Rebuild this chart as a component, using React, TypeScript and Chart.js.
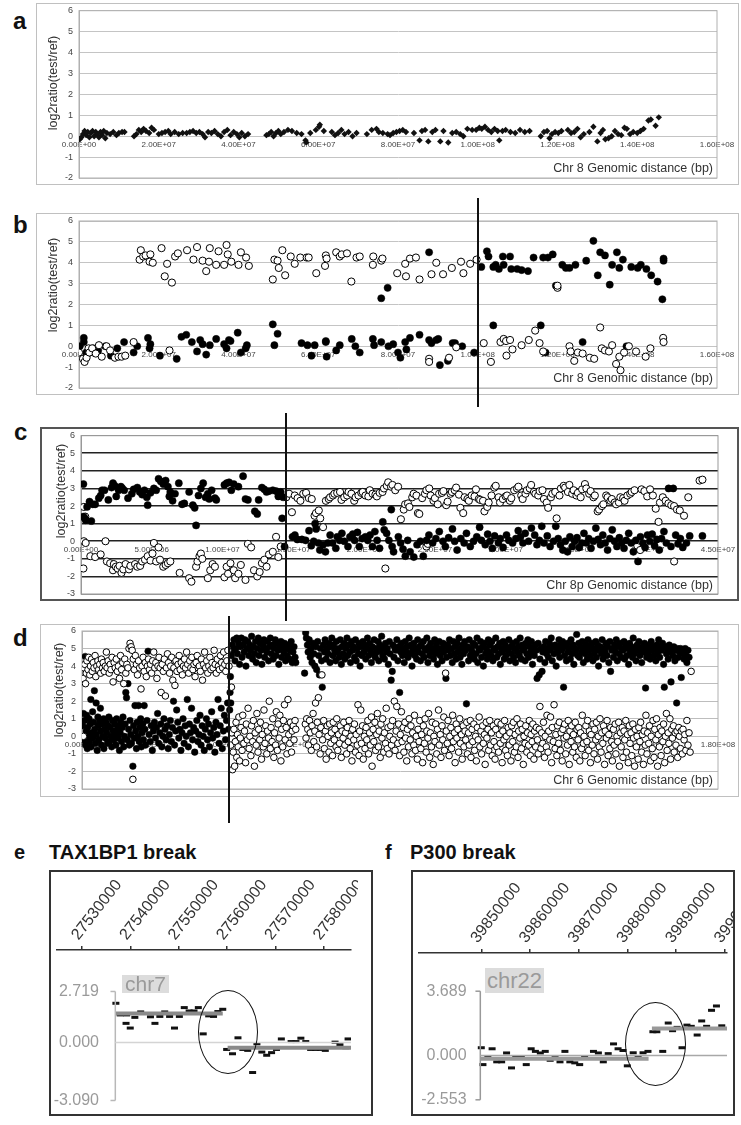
import React, { useEffect, useRef } from 'react';
import { Chart, registerables } from 'chart.js';
Chart.register(...registerables);

const FONT = '"Liberation Sans", Arial, Helvetica, sans-serif';
Chart.defaults.font.family = FONT;

// ---------- Panel a: Chr 8 (Mb, log2ratio) ----------
const aChr8: number[][] = [
[0.2,-0.15],[0.6,-0.05],[1.0,0.1],[1.4,0.25],[1.8,0.05],[2.2,0.2],[2.6,-0.05],[3.0,0.15],[3.4,0.25],[3.8,0.0],[4.2,0.2],[4.6,0.1],[5.0,-0.05],[5.4,0.2],[5.8,0.05],[6.2,0.25],[6.6,-0.1],[7.0,0.15],[7.8,0.1],[8.6,0.2],[9.4,0.05],[10.0,0.15],[10.8,0.2],[11.4,0.2],
[13.8,0.0],[14.4,0.1],[15.0,0.3],[15.6,0.2],[16.2,0.35],[16.8,0.25],[17.6,0.15],[18.2,0.4],[18.8,0.3],
[20.0,0.1],[20.8,0.15],[21.6,0.2],[22.4,0.25],[23.0,0.1],[24.0,0.2],[25.0,0.1],[26.0,0.15],[27.0,0.15],[27.8,0.2],[28.6,0.25],[29.4,0.15],[30.2,0.2],[31.0,0.1],[31.6,-0.05],[32.4,0.2],[33.2,0.15],[34.0,0.25],[34.8,0.1],[35.6,0.0],[36.4,0.2],[37.2,0.3],[38.0,0.05],[38.8,0.2],[39.6,0.1],[40.2,-0.05],[40.8,0.15],[41.6,0.0],[42.4,0.1],
[47.0,0.05],[47.6,0.1],[48.2,0.2],[48.8,0.0],[49.4,0.15],[50.0,0.25],[50.6,0.1],[51.4,0.2],[52.4,0.3],[53.4,0.25],[54.6,0.15],[55.8,0.1],[56.8,-0.2],[57.0,-0.3],[58.0,0.15],
[59.4,0.3],[60.2,0.45],[60.4,0.55],[61.4,0.25],
[63.4,0.2],[64.2,0.05],[65.0,0.15],[65.8,0.3],[66.6,0.1],[67.6,0.2],[68.6,0.0],[69.6,0.15],
[72.2,0.1],[73.4,0.3],[74.6,0.35],[75.2,0.2],[76.2,0.15],[77.4,0.1],[78.0,0.05],[78.8,0.15],[79.6,0.2],[80.4,0.25],[81.2,0.3],[82.0,0.2],
[84.0,0.15],[85.4,-0.2],[86.0,0.25],[86.8,0.3],[87.6,-0.25],[88.6,0.2],[89.4,0.3],[90.6,-0.25],[91.4,0.25],[92.6,-0.3],[93.6,0.15],[94.6,0.2],[95.6,0.1],[96.4,0.0],[97.4,0.35],[98.6,0.3],
[99.6,0.3],[100.4,0.4],[101.0,0.35],[101.8,0.45],[102.6,0.3],[103.4,0.2],[104.2,0.35],[105.0,0.25],[105.4,-0.2],[106.2,0.25],[107.0,0.3],[108.2,0.2],[109.4,0.15],[110.6,0.3],[111.8,0.2],[113.0,0.25],
[115.8,0.0],[116.6,0.2],[117.4,0.25],[118.0,-0.1],[118.6,0.1],[119.4,0.2],[120.2,0.15],[121.0,0.25],
[122.6,0.3],[123.4,0.15],[124.2,0.2],[125.0,0.35],[125.8,-0.05],[126.6,0.1],
[128.0,0.2],[129.0,0.45],[130.0,-0.25],[130.8,0.15],[131.4,0.3],[132.0,-0.15],[132.8,-0.1],
[133.6,0.0],[134.4,0.25],[135.2,0.1],[136.0,0.05],[136.8,0.4],[137.4,0.35],[138.2,0.1],[139.0,0.2],
[140.0,0.15],[140.8,0.25],[141.6,0.35],[142.8,0.75],[143.4,0.8],[144.6,0.5],[145.4,0.9]
];

// ---------- Panel b ----------
const bFilled: number[][] = [
[0.2,0.0],[1.2,0.4],[1.2,0.2],[1.8,-0.3],[2.4,-0.15],[3.6,-0.1],[4.8,-0.2],[6.6,0.0],[8.0,-0.45],[9.6,-0.1],[11.3,0.2],[13.7,-0.3],[14.6,0.0],[17.3,0.4],[17.9,0.1],[17.7,-0.1],[20.3,-0.45],[24.5,-0.6],[25.7,0.45],[26.9,0.55],[28.3,0.2],[29.6,-0.25],[30.4,0.3],[31.0,0.1],[31.9,-0.4],[32.8,0.05],[34.4,0.35],[36.4,0.1],[37.0,-0.1],[37.6,0.3],[38.0,0.25],[39.8,0.65],[40.6,-0.3],[41.8,-0.1],[42.1,0.05],[48.6,1.05],[49.0,0.05],[49.8,0.6],[55.8,0.15],[57.3,0.05],[59.1,0.05],[58.3,-0.45],[61.9,0.25],[61.9,0.2],[62.1,-0.5],[64.5,-0.2],[65.4,0.05],[68.4,0.35],[69.3,0.0],[70.4,-0.3],[73.7,0.35],[74.0,0.05],[75.8,0.2],[77.6,0.0],[78.8,0.1],[80.0,-0.3],[80.6,-0.55],[81.8,0.2],[82.1,-0.15],[83.0,0.4],[85.4,0.55],[87.8,0.3],[88.4,0.15],[89.6,0.3],[90.1,0.35],[90.5,-0.9],[92.5,-0.7],[93.7,0.15],[94.3,0.15],[96.1,0.0],[99.1,-0.3],
[75.8,2.3],[77.4,2.8],[87.8,4.5],
[100.9,3.8],[102.3,4.55],[102.7,4.3],[103.9,3.8],[104.5,3.9],[105.3,3.7],[106.3,4.3],[106.5,3.9],[108.1,4.3],[108.4,3.7],[109.9,3.7],[111.0,3.65],[112.6,3.6],[114.0,4.25],[116.4,4.25],[117.6,4.25],[118.8,4.4],[119.6,2.9],[121.2,3.9],[122.1,3.75],[123.0,3.75],[124.5,3.9],[127.2,4.1],[129.0,5.05],[130.1,3.4],[130.7,4.5],[131.9,4.35],[133.1,2.95],[133.7,3.9],[134.9,4.5],[135.5,3.75],[136.4,4.15],[138.5,3.8],[140.1,3.75],[140.9,3.9],[142.3,3.7],[143.5,3.4],[145.1,3.1],[146.3,2.25],[146.6,4.2],[146.6,4.1],
[103.9,1.0],[115.8,1.0],[117.0,-0.3],[126.3,0.2],[137.3,0.0]
];
const bOpen: number[][] = [
[0.0,-0.3],[1.0,-0.6],[1.4,-0.75],[1.9,-0.55],[2.4,-0.1],[2.6,-0.3],[3.3,-0.1],[4.2,-0.35],[5.0,0.05],[5.7,-0.5],[6.9,0.0],[7.8,-0.2],[9.0,-0.55],[9.9,-0.5],[10.7,-0.5],[11.6,-0.45],[13.7,0.2],[22.7,-0.2],
[15.2,4.15],[15.5,4.6],[16.1,4.3],[16.7,4.35],[17.7,4.05],[17.9,4.4],[18.5,4.0],[20.7,4.7],[21.5,3.35],[22.1,3.95],[23.3,3.05],[24.1,4.3],[24.8,4.45],[27.1,4.6],[28.7,4.15],[29.6,4.75],[31.0,4.1],[31.9,3.6],[32.8,4.7],[32.6,4.05],[34.4,3.9],[35.0,4.55],[36.4,3.9],[37.0,4.85],[37.3,4.4],[38.2,4.05],[40.0,3.9],[40.6,4.5],[41.9,4.25],[42.6,3.85],
[48.6,3.2],[49.0,4.15],[49.8,4.1],[50.1,3.75],[51.0,4.6],[51.7,3.4],[53.1,4.3],[54.1,3.95],[55.5,4.25],[57.1,4.25],[57.6,4.25],[59.5,3.5],[61.7,3.85],[61.9,4.35],[62.1,4.2],[64.5,4.5],[65.4,4.3],[65.9,4.4],[67.2,4.45],[68.3,3.1],[69.6,4.25],[70.4,4.3],[73.7,3.9],[73.8,4.3],[75.8,4.1],[76.1,4.2],[79.8,3.5],[81.8,3.95],[82.0,3.35],[83.0,4.2],[84.5,4.25],[85.4,3.2],[88.4,3.45],[89.6,4.0],[91.3,3.45],[93.5,3.75],[95.8,4.05],[96.4,3.5],[98.1,3.95],[99.7,4.15],
[87.8,-0.6],[87.8,-0.75],[92.8,-0.55],[94.6,-0.05],
[101.5,0.15],[103.3,-0.75],[105.7,0.2],[106.5,0.35],[107.1,0.25],[107.2,-0.45],[108.1,0.3],[108.7,-0.15],[111.0,0.05],[112.8,0.3],[114.4,0.75],[115.5,0.15],[116.4,-0.25],[120.0,2.8],[120.0,2.9],[123.0,0.0],[123.3,-0.25],[124.2,-0.7],[125.1,-0.3],[126.3,-0.35],[128.1,-0.55],[129.2,-0.6],[130.7,0.9],[131.1,-0.1],[131.9,-0.2],[132.9,-0.25],[133.7,0.05],[134.7,-0.85],[135.8,-1.15],[135.5,-0.5],[136.7,-0.3],[137.9,0.0],[139.7,-0.25],[142.1,-0.5],[143.3,-0.1],[146.5,0.4],[146.6,0.2]
];

// ---------- Panel c: Chr 8p ----------
const cFilled: number[][] = [
[0.17,3.25],[0.17,1.4],[0.27,1.3],[0.33,1.2],[0.43,1.95],[0.6,2.25],[0.73,1.15],[0.83,2.1],[1.0,2.1],[1.26,2.45],[1.39,2.6],[1.49,2.9],[1.66,2.9],[1.93,2.35],[2.16,3.05],[2.26,3.3],[2.39,3.15],[2.49,2.55],[2.66,2.9],[2.82,3.1],[2.92,3.0],[3.05,2.9],[3.32,2.45],[3.59,2.7],[3.72,2.95],[3.98,3.05],[4.15,2.8],[4.32,2.65],[4.48,2.9],[4.65,2.5],[4.71,2.05],[4.91,2.75],[5.15,3.0],[5.31,2.9],[5.48,3.55],[5.64,3.4],[5.81,3.25],[5.98,3.45],[6.14,3.1],[6.24,2.55],[6.31,2.8],[6.47,2.3],[6.64,2.7],[6.91,3.3],[7.14,2.1],[7.3,2.15],[7.64,2.8],[7.9,2.05],[8.03,1.9],[8.13,0.9],[8.3,2.6],[8.47,3.0],[8.63,3.3],[8.8,2.5],[8.96,2.7],[9.06,2.4],[9.23,2.9],[9.46,2.45],[9.56,2.35],[10.13,3.2],[10.29,3.3],[10.46,3.35],[10.62,2.9],[10.79,3.25],[11.12,3.1],[11.45,3.7],[11.62,2.4],[11.79,2.35],[12.28,1.7],[12.45,1.55],[12.55,2.35],[12.78,3.05],[12.95,2.95],[13.11,2.8],[13.28,2.85],[13.55,2.9],[13.78,2.85],[13.94,2.55],[14.11,2.8],[14.21,1.3],[14.28,2.5],
[14.38,-0.3],[14.94,0.25],[15.11,0.35],[15.28,0.1],[15.61,0.1],[15.87,0.05],[16.11,0.6],[16.27,-0.25],[16.44,0.0],[16.54,1.0],[16.61,0.7],[16.77,-0.1],[16.87,-0.5],[17.1,-0.2],[17.27,-0.6],[17.44,-0.1],[17.6,0.35],[17.77,-0.1],[18.0,-0.4],[18.1,0.25],[18.27,0.05],[18.43,0.45],[18.6,0.0],[18.86,-0.3],[19.0,0.25],[19.2,0.4],[19.33,0.05],[19.53,0.5],[19.66,-0.3],[19.86,0.15],[20.09,0.25],[20.26,0.05],[20.42,0.35],[20.59,-0.3],[20.76,0.55],[20.92,0.05],[21.09,-0.4],[21.32,1.1],[21.42,0.65],[21.59,0.45],[21.75,0.05],[21.92,1.8],[21.98,-0.3],[22.08,-0.6],[22.42,0.25],[22.58,-0.1],[22.75,-0.45],[22.91,-0.85],[23.08,0.05],[23.25,-0.6],[23.51,-0.9],[23.74,-0.2],[23.98,0.0],[24.18,-0.85],[24.41,0.05],[24.58,0.35],[24.84,-0.1],[25.07,0.15],[25.31,0.55],[25.57,0.0],[25.74,-0.3],[25.97,0.2],[26.24,0.7],[26.4,0.0],[26.57,-0.5],[26.83,0.15],[27.07,-0.1],[27.23,0.45],[27.5,-0.3],[27.73,0.0],[27.96,0.25],[28.16,0.8],[28.29,0.05],[28.56,-0.2],[28.73,0.4],[28.89,0.0],[29.06,-0.4],[29.22,0.3],[29.49,-0.1],[29.62,0.15],[29.82,-0.35],[30.06,0.35],[30.22,0.05],[30.49,-0.1],[30.72,0.15],[30.89,0.6],[31.05,0.25],[31.22,-0.1],[31.38,0.45],[31.62,0.0],[31.82,0.75],[32.05,0.35],[32.21,-0.2],[32.38,0.05],[32.55,0.85],[32.71,-0.1],[32.94,0.3],[33.14,-0.3],[33.38,0.0],[33.54,0.85],[33.71,0.15],[33.87,-0.2],[34.04,-0.5],[34.21,0.0],[34.37,-0.6],[34.54,0.25],[34.7,-0.3],[34.87,0.0],[35.04,0.2],[35.2,-0.35],[35.37,-0.1],[35.53,0.45],[35.7,-0.1],[35.87,0.15],[36.03,-0.4],[36.2,0.0],[36.37,0.75],[36.53,0.1],[36.7,-0.2],[36.86,0.35],[37.03,-0.1],[37.2,-0.5],[37.36,0.15],[37.53,0.65],[37.69,0.0],[37.86,-0.3],[38.03,0.2],[38.19,-0.1],[38.36,-0.4],[38.52,0.05],[38.69,0.45],[38.86,-0.1],[39.02,-0.6],[39.19,0.05],[39.35,-1.15],[39.52,0.25],[39.69,-0.1],[39.85,-0.35],[40.02,0.35],[40.18,0.0],[40.35,0.4],[40.52,-0.25],[40.68,0.1],[40.85,-0.5],[41.01,0.15],[41.18,0.55],[41.35,-0.1],[41.51,3.0],[41.68,-0.3],[41.84,3.0],[42.01,0.35],[42.18,-0.15],[42.34,0.15],[42.51,-0.35],[42.77,-0.1],[43.0,0.3],[43.9,0.3]
];
const cOpen: number[][] = [
[0.2,1.95],[0.3,1.4],[0.2,0.0],[0.33,-0.1],[0.17,-1.55],[0.66,-0.85],[1.0,-0.9],[1.39,-0.75],[1.73,0.0],[1.83,-1.15],[2.06,-1.25],[2.26,-1.65],[2.32,-1.3],[2.46,-1.45],[2.59,-1.55],[2.72,-1.4],[2.86,-1.8],[2.99,-1.6],[3.15,-1.3],[3.39,-1.6],[3.49,-1.4],[3.82,-1.3],[3.98,-1.45],[4.18,-1.4],[4.32,-1.15],[4.52,-1.05],[4.71,-0.85],[4.91,-1.1],[5.05,-0.7],[5.15,-0.1],[5.31,-1.15],[5.48,-0.35],[5.58,-1.05],[5.81,-1.45],[5.98,-1.35],[6.14,-1.25],[6.31,-1.15],[6.97,-1.8],[7.64,-2.1],[7.8,-2.3],[8.13,-1.45],[8.23,-1.15],[8.37,-0.85],[8.47,-0.7],[8.57,-1.0],[8.96,-2.1],[9.13,-1.65],[9.3,-1.3],[9.46,-1.45],[10.13,-2.05],[10.29,-1.45],[10.39,-1.85],[10.56,-1.25],[10.79,-1.65],[10.89,-2.1],[11.12,-1.85],[11.29,-1.35],[11.62,-2.2],[11.79,-0.15],[12.02,-0.35],[12.22,-1.65],[12.45,-2.0],[12.62,-1.75],[12.78,-1.25],[12.95,-1.05],[13.11,-1.45],[13.28,-0.75],[13.55,-0.6],[13.78,0.25],[13.94,-0.9],[14.11,-0.3],
[14.5,2.5],[14.7,2.7],[14.9,1.65],[15.1,2.6],[15.3,2.45],[15.5,2.3],[15.7,2.7],[15.9,2.75],[16.1,2.45],[16.3,2.4],[16.5,1.45],[16.6,1.6],[16.8,1.75],[16.9,1.3],[17.1,0.8],[17.3,2.3],[17.5,2.4],[17.6,2.5],[17.8,2.6],[17.9,2.7],[18.1,2.75],[18.3,2.8],[18.4,2.35],[18.6,2.5],[18.8,2.6],
[18.9,2.8],[19.1,2.7],[19.3,2.3],[19.4,2.5],[19.6,2.6],[19.8,2.75],[19.9,2.8],[20.1,2.6],[20.3,2.55],[20.4,2.9],[20.6,2.7],[20.8,2.65],[20.9,2.55],[21.1,2.75],[21.3,2.8],[21.4,3.0],[21.6,3.15],[21.7,3.35],[21.9,3.1],[22.0,3.2],[22.2,2.9],[21.5,-1.55],[22.4,3.1],
[22.6,1.25],[22.8,1.8],[22.9,2.1],[23.1,2.15],[23.2,1.95],[23.4,2.5],[23.5,2.7],[23.7,2.6],[23.8,1.6],[23.9,1.55],[24.1,2.45],[24.3,2.7],[24.4,2.9],[24.6,3.0],[24.7,2.6],[24.9,2.3],[25.0,2.45],[25.2,2.1],[24.4,-0.3],[24.5,-0.15],[25.3,2.7],[25.5,2.75],[25.6,2.85],[25.8,2.05],[25.9,2.25],[26.1,2.7],[26.2,2.8],[26.4,2.9],[26.5,3.05],[26.7,2.65],[26.8,1.9],[27.0,1.6],
[27.1,2.5],[27.3,2.4],[27.4,2.3],[27.6,2.6],[27.8,2.55],[27.9,2.95],[28.1,2.4],[28.2,2.35],[28.4,2.3],[28.5,1.7],[28.7,1.95],[28.8,2.2],[29.0,2.6],[29.2,3.05],[29.3,3.15],[29.5,2.5],[29.6,2.2],[29.8,2.4],[30.0,2.55],[30.1,2.6],[30.3,2.3],[30.4,2.45],[30.6,2.9],[30.8,3.0],[30.9,3.1],
[31.1,2.6],[31.2,2.4],[31.4,2.7],[31.5,2.9],[31.7,3.0],[31.8,3.2],[32.0,2.8],[32.1,2.7],[32.3,2.6],[32.4,2.85],[32.6,2.9],[32.7,2.4],[32.9,2.2],[33.0,1.9],[33.2,2.5],[33.3,2.7],[33.5,2.8],[33.6,1.3],[33.8,2.6],[33.9,3.0],[34.1,3.15],[34.2,3.05],[34.4,2.8],[34.5,3.2],[34.7,2.7],[34.8,2.9],[35.0,2.6],[35.1,2.75],[35.3,2.5],[35.4,2.95],
[35.6,3.25],[35.7,3.0],[35.9,2.7],[36.0,2.85],[36.2,2.5],[36.3,2.6],[36.5,1.7],[36.6,1.8],[36.8,2.0],[36.9,2.1],[37.1,2.6],[37.2,2.5],[37.4,2.3],[37.5,2.4],[37.7,2.2],[37.8,2.1],[38.0,2.2],[38.1,2.5],[38.3,2.45],[38.4,2.3],[39.3,-0.25],[39.4,0.05],[39.5,-0.5],[38.6,2.6],[38.8,2.7],[38.9,2.8],[39.1,2.9],[39.6,2.95],[39.8,2.85],[40.0,2.55],
[40.2,2.95],[40.4,2.6],[40.6,1.85],[40.8,1.1],[40.9,2.2],[41.1,2.5],[41.3,2.3],[41.5,2.15],[41.7,2.05],[41.9,2.0],[42.1,1.8],[42.3,1.75],[41.9,-1.15],[42.6,1.45],[42.9,2.5],[43.7,3.45],[43.9,3.5]
];

// ---------- Panel d: Chr 6 ----------
const dOpen: number[][] = [
[0.3,3.3],[0.5,3.9],[0.8,4.1],[1.0,3.0],[1.2,3.6],[1.4,4.3],[1.7,3.8],[1.9,4.5],[2.2,3.5],[2.4,4.0],[2.7,4.4],[2.9,3.7],[3.2,4.2],[3.4,3.9],[3.7,4.6],[3.9,3.4],[4.2,4.0],[4.5,4.3],[4.7,3.8],[5.0,4.1],[5.3,3.6],[5.5,4.4],[5.8,3.9],[6.0,4.2],[6.3,3.7],[6.6,4.0],[6.9,4.8],[7.1,3.9],[7.4,4.3],[7.7,3.6],[8.0,4.1],[8.2,3.8],[8.5,4.5],[8.8,3.1],[9.1,4.2],[9.4,3.9],[9.7,4.4],[10.0,3.7],[10.3,4.0],[10.6,3.3],[10.9,4.6],[11.2,3.8],[11.5,4.2],[11.8,3.0],[12.1,4.4],[12.4,3.6],[12.7,4.1],[13.0,3.9],[13.3,5.0],[13.6,5.3],[13.9,5.1],[14.2,4.9],[14.5,4.4],[14.8,3.8],[15.1,4.6],[15.4,4.1],[15.7,3.5],[16.0,4.3],[16.3,3.9],[16.7,2.7],[17.0,4.0],[17.3,4.5],[17.6,3.7],[17.9,4.2],[18.2,3.4],[18.5,4.0],[18.8,4.4],[19.1,3.8],[19.4,4.1],[19.7,3.6],[20.0,4.3],[20.3,4.8],[20.6,3.9],[20.9,4.2],[21.2,3.3],[21.5,4.0],[21.8,4.5],[22.1,3.9],[22.4,2.5],[22.7,4.1],[23.0,3.7],[23.3,4.4],[23.6,2.3],[23.9,3.9],[24.2,4.7],[24.5,4.2],[24.8,3.6],[25.1,4.0],[25.4,4.5],[25.7,3.2],[26.0,3.9],[26.3,2.9],[26.6,4.3],[26.9,3.7],[27.2,4.1],[27.5,4.6],[27.8,3.8],[28.1,4.2],[28.4,3.5],[28.7,4.0],[29.0,4.4],[29.3,3.9],[29.6,4.8],[29.9,4.1],[30.2,3.6],[30.5,4.3],[30.8,3.9],[31.1,4.5],[31.4,3.8],[31.7,4.1],[32.0,3.4],[32.3,4.2],[32.6,4.6],[32.9,3.9],[33.2,4.0],[33.5,3.7],[33.8,4.4],[34.1,3.2],[34.4,4.1],[34.7,4.8],[35.0,3.9],[35.3,4.3],[35.6,3.6],[35.9,4.0],[36.2,4.5],[36.5,3.8],[36.8,4.2],[37.1,3.9],[37.4,4.9],[37.7,4.1],[38.0,3.6],[38.3,4.4],[38.6,4.0],[38.9,3.8],[39.2,4.6],[39.5,4.2],[39.8,3.9],[40.1,4.8],[40.4,4.1],[40.7,3.7],[41.0,4.3],[41.3,4.9],[41.6,4.0],
[0.4,0.0],[14.4,-2.45],
[42.1,-0.5],[42.3,2.8],[42.4,0.2],[42.6,-1.9],[42.8,-0.9],[43.0,0.4],[43.2,-1.7],[43.4,-0.3],[43.6,0.8],[43.8,-1.2],[44.0,0.1],[44.2,-0.6],[44.4,1.1],[44.6,-1.4],[44.8,-0.1],[45.0,0.5],[45.3,-0.8],[45.5,1.2],[45.8,-0.4],[46.0,0.3],[46.3,-1.5],[46.5,0.7],[46.8,-0.2],[47.0,1.6],[47.3,-0.7],[47.5,0.0],[47.8,-1.1],[48.0,0.6],[48.3,-0.3],[48.5,0.9],[48.8,-1.7],[49.0,0.2],[49.3,-0.5],[49.5,1.3],[49.8,-0.9],[50.0,0.4],[50.3,-0.2],[50.5,0.8],[50.8,-1.3],[51.0,0.1],[51.3,-0.6],[51.5,1.5],[51.8,-0.4],[52.0,0.6],[52.3,-1.0],[52.5,0.3],[52.8,-0.1],[53.0,2.0],[53.3,-0.7],[53.5,0.5],[53.8,-0.3],[54.0,1.0],[54.3,-1.2],[54.5,0.2],[54.8,-0.5],[55.0,1.4],[55.3,-0.8],[55.5,0.7],[55.8,-0.1],[56.0,1.2],[56.3,-1.4],[56.5,0.4],[56.8,-0.6],[57.0,0.9],[57.3,1.8],[57.5,-0.2],[57.8,0.5],[58.0,-1.0],[58.3,2.1],[58.5,0.1],[58.8,-0.4],[59.0,0.8],[59.3,-0.9],[59.5,0.3],[59.8,0.6],[60.0,-0.2],[60.3,0.9],[60.5,0.4],
[63.2,0.7],[63.4,-0.1],[63.6,1.0],[63.9,0.4],[64.1,-0.5],[64.4,0.9],[64.6,0.2],[64.9,-0.8],[65.1,0.6],[65.4,1.3],[65.6,-0.3],[65.9,0.3],[66.1,1.9],[66.4,-0.6],[66.6,0.8],[66.9,2.2],[67.1,0.1],[67.4,-1.0],[67.6,0.5],[67.9,3.5],[68.1,-0.2],[68.4,0.9],[68.6,-0.7],[68.9,0.3],[69.1,-1.3],[69.4,0.6],[69.6,0.0],[69.9,-0.9],[70.1,0.7],[70.4,-0.4],[70.6,0.2],[70.9,-1.1],[71.1,0.8],[71.4,-0.2],[71.6,0.4],[71.9,-0.6],[72.1,1.0],[72.4,-0.8],[72.6,0.1],[72.9,-0.4],[73.1,0.6],[73.4,-1.2],[73.6,0.3],[73.9,-0.1],[74.1,0.8],[74.4,-0.5],[74.6,0.2],[74.9,-1.0],[75.1,0.5],[75.4,-0.3],[75.6,0.9],[75.9,-0.7],[76.1,0.0],[76.4,-1.4],[76.6,0.4],[76.9,-0.2],[77.1,0.7],[77.4,-0.9],[77.6,0.1],[77.9,-0.5],[78.1,1.8],[78.4,-1.1],[78.6,0.3],[78.9,1.5],[79.1,-0.4],[79.4,0.6],[79.6,-1.3],[79.9,0.0],[80.1,-0.7],[80.4,0.5],[80.6,-0.2],[80.9,0.9],[81.1,-1.0],[81.4,0.2],[81.6,-0.5],[81.9,1.1],[82.1,-1.7],[82.4,0.4],[82.6,-0.3],[82.9,0.8],[83.1,-0.8],[83.4,0.1],[83.6,1.3],[83.9,-0.6],[84.1,0.3],[84.4,-1.2],[84.6,0.7],[84.9,-0.1],[85.1,1.0],[85.4,-0.9],[85.6,0.2],[85.9,-0.4],[86.1,1.6],[86.4,-0.7],[86.6,0.5],[86.9,-1.0],[87.1,0.0],[87.4,0.6],[87.6,-0.5],[87.9,0.9],[88.1,-0.2],[88.4,2.0],[88.6,-0.8],[88.9,0.3],[89.1,1.7],[89.4,-0.4],[89.6,0.7],[89.9,-1.1],[90.1,0.1],[90.4,1.4],[90.6,-0.3],[90.9,0.5],[91.1,-0.9],[91.4,0.8],[91.6,-0.1],[91.9,-1.4],[92.1,0.4],[92.4,-0.6],[92.6,1.0],[92.9,-0.2],[93.1,0.6],[93.4,-1.0],[93.6,0.2],[93.9,-0.5],[94.1,1.2],[94.4,-0.8],[94.6,0.0],[94.9,-1.3],[95.1,0.4],[95.4,-0.3],[95.6,0.9],[95.9,-0.7],[96.1,0.1],[96.4,-1.5],[96.6,0.6],[96.9,-0.4],[97.1,1.0],[97.4,-0.9],[97.6,0.3],[97.9,-0.1],[98.1,1.3],[98.4,-1.2],[98.6,0.2],[98.9,-0.6],[99.1,0.8],[99.4,-1.6],[99.6,0.0],[99.9,-0.3],[100.1,0.7],[100.4,-1.0],[100.6,0.4],[100.9,1.5],[101.1,-0.5],[101.4,0.1],[101.6,-1.2],[101.9,0.6],[102.1,-0.2],[102.4,1.1],[102.6,-0.8],[102.9,3.6],[103.1,0.3],[103.4,-0.4],[103.6,0.9],[103.9,-1.1],[104.1,0.0],[104.4,0.5],[104.6,-0.7],[104.9,1.2],[105.1,-0.3],[105.4,0.2],[105.6,-1.5],[105.9,0.7],[106.1,-0.1],[106.4,0.4],[106.6,-0.9],[106.9,1.0],[107.1,-0.4],[107.4,0.1],[107.6,-1.3],[107.9,0.6],[108.1,-0.6],[108.4,0.3],[108.6,-0.2],[108.9,0.8],[109.1,-1.0],[109.4,0.2],[109.6,-0.5],[109.9,0.9],[110.1,-1.2],[110.4,0.4],[110.6,-0.3],[110.9,0.7],[111.1,-0.8],[111.4,0.0],[111.6,-1.4],[111.9,0.5],[112.1,-0.2],[112.4,1.1],[112.6,-0.6],[112.9,0.3],[113.1,-1.0],[113.4,0.6],[113.6,-0.4],[113.9,0.1],[114.1,-1.6],[114.4,0.8],[114.6,-0.1],[114.9,0.4],[115.1,-0.8],[115.4,0.9],[115.6,-0.5],[115.9,0.2],[116.1,-1.1],[116.4,0.6],[116.6,-0.3],[116.9,-1.3],[117.1,0.4],[117.4,-0.6],[117.6,0.8],[117.9,-0.9],[118.1,0.1],[118.4,-0.4],[118.6,0.7],[118.9,-1.5],[119.1,0.3],[119.4,-0.2],[119.6,0.9],[119.9,-0.8],[120.1,0.0],[120.4,-1.1],[120.6,0.5],[120.9,-0.5],[121.1,0.2],[121.4,-1.4],[121.6,0.6],[121.9,-0.3],[122.1,0.8],[122.4,-0.9],[122.6,0.1],[122.9,-0.6],[123.1,1.0],[123.4,-1.2],[123.6,0.3],[123.9,-0.1],[124.1,0.7],[124.4,-0.7],[124.6,0.4],[124.9,-1.6],[125.1,0.0],[125.4,-0.4],[125.6,0.6],[125.9,-0.9],[126.1,0.2],[126.4,-0.5],[126.6,0.9],[126.9,-1.1],[127.1,0.1],[127.4,-0.3],[127.6,0.7],[127.9,-1.3],[128.1,0.3],[128.4,-0.6],[128.6,0.5],[128.9,-0.2],[129.1,-1.0],[129.4,0.4],[129.6,1.7],[129.9,-0.7],[130.1,0.2],[130.4,-0.4],[130.6,0.8],[130.9,-1.2],[131.1,0.0],[131.4,-0.6],[131.6,1.2],[131.9,-0.9],[132.1,0.3],[132.4,-0.2],[132.6,1.1],[132.9,-1.5],[133.1,0.5],[133.4,-0.3],[133.6,1.8],[133.9,-0.7],[134.1,0.1],[134.4,-1.1],[134.6,0.6],[134.9,-0.4],[135.1,0.8],[135.4,-0.8],[135.6,0.2],[135.9,-1.4],[136.1,0.4],[136.4,-0.1],[136.6,0.7],[136.9,-1.0],[137.1,0.0],[137.4,-0.5],[137.6,0.9],[137.9,-1.6],[138.1,0.3],[138.4,-0.3],[138.6,0.6],[138.9,-0.9],[139.1,0.1],[139.4,-0.6],[139.6,0.8],[139.9,-1.2],[140.1,0.4],[140.4,-0.2],[140.6,0.5],[140.9,-1.4],[141.1,0.2],[141.4,-0.7],[141.6,1.2],[141.9,-0.4],[142.1,0.0],[142.4,-1.1],[142.6,0.6],[142.9,-0.3],[143.1,0.9],[143.4,-0.8],[143.6,0.3],[143.9,-1.5],[144.1,0.1],[144.4,-0.5],[144.6,0.7],[144.9,-1.0],[145.1,0.4],[145.4,-0.2],[145.6,0.8],[145.9,-1.3],[146.1,0.0],[146.4,-0.6],[146.6,1.0],[146.9,-0.9],[147.1,0.2],[147.4,-0.4],[147.6,0.6],[147.9,-1.6],[148.1,0.3],[148.4,-0.1],[148.6,0.9],[148.9,-1.1],[149.1,0.1],[149.4,-0.7],[149.6,0.5],[149.9,-0.3],[150.1,-1.4],[150.4,0.4],[150.6,-0.5],[150.9,0.7],[151.1,-1.0],[151.4,0.0],[151.6,-0.3],[151.9,0.8],[152.1,-1.7],[152.4,0.2],[152.6,-0.6],[152.9,0.5],[153.1,-1.2],[153.4,0.3],[153.6,-0.2],[153.9,0.9],[154.1,-0.9],[154.4,0.1],[154.6,-1.5],[154.9,0.6],[155.1,-0.4],[155.4,0.2],[155.6,-1.1],[155.9,0.7],[156.1,-0.1],[156.4,-1.7],[156.6,0.4],[156.9,-0.6],[157.1,0.0],[157.4,-1.3],[157.6,0.5],[157.9,-0.3],[158.1,0.8],[158.4,-0.9],[158.6,0.1],[158.9,-1.6],[159.1,0.3],[159.4,-0.5],[159.6,1.2],[159.9,-1.0],[160.1,0.2],[160.4,-0.4],[160.6,0.6],[160.9,-1.4],[161.1,0.0],[161.4,-0.7],[161.6,0.9],[161.9,-1.2],[162.1,0.4],[162.4,-0.2],[162.6,1.0],[162.9,-1.7],[163.1,0.1],[163.4,-0.6],[163.6,0.5],[163.9,-1.1],[164.1,0.3],[164.4,-0.3],[164.6,0.7],[164.9,-1.5],[165.1,0.0],[165.4,1.3],[165.6,-0.8],[165.9,0.2],[166.1,-0.4],[166.4,1.0],[166.6,-1.3],[166.9,0.4],[167.1,-0.1],[167.4,0.6],[167.6,-0.9],[167.9,0.2],[168.1,-0.5],[168.4,0.3],[168.6,-1.2],[168.9,0.5],[169.1,0.0],[169.4,-0.7],[169.6,0.3],[169.9,-1.0],[170.1,0.4],[170.4,-0.2],[170.6,0.1],[170.9,-0.8],[171.2,0.9],[171.5,-0.5],[171.8,0.2],[172.1,-0.9],[172.4,3.7]
];
const dFilled: number[][] = [
[0.2,0.6],[0.4,1.3],[0.5,-0.2],[0.7,0.9],[0.9,4.55],[1.0,-0.5],[1.2,0.3],[1.3,1.2],[1.5,-0.7],[1.6,0.5],[1.8,0.0],[2.0,1.0],[2.1,-0.3],[2.3,0.7],[2.5,2.1],[2.6,-0.6],[2.8,0.2],[3.0,1.4],[3.1,-0.1],[3.3,0.8],[3.5,2.6],[3.6,0.4],[3.8,-0.4],[4.0,1.9],[4.1,0.1],[4.3,-0.8],[4.5,1.1],[4.6,0.6],[4.8,-0.2],[5.0,0.9],[5.2,1.6],[5.3,0.3],[5.5,-0.5],[5.7,0.7],[5.9,0.0],[6.1,1.0],[6.2,-0.7],[6.4,0.4],[6.6,-0.1],[6.8,0.8],[7.0,0.2],[7.2,-0.4],[7.4,0.6],[7.6,1.1],[7.8,-0.3],[8.0,0.5],[8.2,0.0],[8.4,-0.6],[8.6,0.9],[8.8,0.3],[9.0,-0.2],[9.2,0.7],[9.4,0.1],[9.6,-0.5],[9.8,1.0],[10.0,0.4],[10.2,-0.1],[10.4,0.6],[10.6,-0.8],[10.8,0.2],[11.0,0.8],[11.2,-0.3],[11.4,0.5],[11.6,1.1],[11.8,-0.6],[12.0,0.0],[12.2,0.7],[12.4,2.5],[12.6,2.2],[12.8,-0.2],[13.0,3.0],[13.2,0.4],[13.4,-0.5],[13.6,0.9],[13.8,0.1],[14.0,-0.4],[14.4,-1.7],[14.6,0.6],[14.8,-0.1],[15.0,1.75],[15.2,0.3],[15.4,-0.7],[15.6,0.8],[15.8,0.0],[16.0,1.75],[16.2,-0.3],[16.4,0.5],[16.6,1.0],[16.8,-0.6],[17.0,0.2],[17.2,0.7],[17.4,-0.2],[17.6,1.75],[17.8,0.4],[18.0,-0.5],[18.4,0.9],[18.7,4.85],[19.0,0.1],[19.3,-0.3],[19.6,0.6],[19.9,-0.8],[20.2,0.3],[20.5,0.8],[20.8,-0.1],[21.1,0.5],[21.4,1.3],[21.7,-0.4],[22.0,0.2],[22.3,0.7],[22.6,-0.6],[22.9,0.0],[23.2,1.0],[23.5,0.4],[23.8,-0.2],[24.1,0.6],[24.4,-0.7],[24.7,0.1],[25.0,0.9],[25.3,-0.3],[25.6,0.5],[25.9,2.0],[26.2,-0.5],[26.5,0.3],[26.8,1.5],[27.1,0.8],[27.4,-0.1],[27.7,0.4],[28.0,-0.8],[28.3,0.2],[28.6,1.0],[28.9,-0.4],[29.2,0.6],[29.5,0.0],[29.8,2.1],[30.1,-0.6],[30.4,0.7],[30.7,0.2],[31.0,1.6],[31.3,-0.2],[31.6,0.5],[31.9,-0.9],[32.2,0.3],[32.5,0.9],[32.8,-0.3],[33.1,0.1],[33.4,1.2],[33.7,-0.5],[34.0,0.6],[34.3,0.0],[34.6,-0.8],[34.9,0.4],[35.2,1.0],[35.5,-0.2],[35.8,0.7],[36.1,-0.6],[36.4,0.2],[36.7,1.4],[37.0,-0.1],[37.3,0.5],[37.6,-0.9],[37.9,0.8],[38.2,0.1],[38.5,2.1],[38.8,-0.4],[39.1,0.6],[39.4,1.6],[39.7,-0.7],[40.0,0.3],[40.3,1.2],[40.6,-0.2],[40.9,0.9],[41.2,1.9],[41.5,0.4],[41.8,1.5],[41.9,2.5],[42.0,3.4],[42.1,1.9],
[42.3,4.6],[42.5,5.2],[42.8,4.9],[43.0,5.5],[43.3,4.3],[43.5,5.0],[43.8,5.6],[44.0,4.7],[44.3,5.3],[44.6,4.1],[44.8,5.1],[45.1,5.6],[45.3,4.5],[45.6,5.2],[45.9,4.8],[46.1,5.5],[46.4,4.0],[46.7,5.0],[46.9,5.4],[47.2,4.6],[47.5,5.2],[47.7,4.9],[48.0,5.7],[48.3,4.4],[48.5,5.1],[48.8,4.7],[49.1,5.4],[49.3,4.2],[49.6,5.0],[49.9,5.6],[50.1,4.6],[50.4,5.3],[50.7,4.9],[50.9,4.1],[51.2,5.2],[51.5,5.5],[51.7,4.5],[52.0,5.0],[52.3,4.8],[52.5,5.4],[52.8,4.3],[53.1,5.1],[53.3,5.6],[53.6,4.7],[53.9,5.2],[54.1,4.4],[54.4,5.0],[54.7,5.5],[54.9,4.6],[55.2,5.3],[55.5,4.9],[55.7,4.1],[56.0,5.1],[56.3,5.4],[56.5,4.5],[56.8,5.0],[57.1,4.8],[57.3,5.3],[57.6,4.3],[57.9,5.0],[58.1,4.6],[58.4,5.2],[58.7,4.4],[58.9,4.9],[59.2,5.4],[59.5,4.2],[59.7,4.8],[60.0,5.1],[60.3,4.5],[60.5,4.2],
[63.0,3.6],[63.3,5.9],[63.5,5.6],[63.8,5.2],[64.0,4.8],[64.3,5.5],[64.6,4.5],[64.8,5.0],[65.1,4.2],[65.4,5.3],[65.6,4.7],[65.9,4.0],[66.2,5.1],[66.4,3.8],[66.7,5.4],[67.0,4.6],[67.2,3.5],[67.5,5.0],[67.8,4.3],[68.0,2.8],[68.3,5.2],[68.6,4.8],[68.8,5.5],[69.1,4.4],[69.4,5.0],[69.6,4.7],[69.9,5.3],[70.2,4.2],[70.4,5.1],[70.7,5.6],[71.0,4.6],[71.2,5.2],[71.5,4.9],[71.8,4.3],[72.0,5.4],[72.3,4.8],[72.6,5.0],[72.8,4.5],[73.1,5.5],[73.4,4.1],[73.6,5.1],[73.9,4.7],[74.2,5.3],[74.4,4.4],[74.7,5.0],[75.0,5.6],[75.2,4.6],[75.5,5.2],[75.8,4.8],[76.0,4.2],[76.3,5.4],[76.6,4.9],[76.8,5.1],[77.1,4.5],[77.4,5.5],[77.6,4.3],[77.9,5.0],[78.2,4.7],[78.4,5.3],[78.7,4.0],[79.0,5.1],[79.2,4.6],[79.5,5.4],[79.8,4.8],[80.0,5.2],[80.3,4.4],[80.6,5.0],[80.8,5.6],[81.1,4.6],[81.4,5.3],[81.6,4.9],[81.9,4.2],[82.2,5.1],[82.4,4.7],[82.7,5.5],[83.0,4.5],[83.2,5.0],[83.5,4.8],[83.8,5.4],[84.0,4.3],[84.3,5.2],[84.6,4.9],[84.8,5.7],[85.1,4.6],[85.4,5.1],[85.6,4.4],[85.9,5.3],[86.2,4.8],[86.4,5.0],[86.7,4.1],[87.0,5.4],[87.2,4.7],[87.5,3.2],[87.8,3.7],[88.0,5.2],[88.3,4.5],[88.6,5.0],[88.8,4.9],[89.1,5.5],[89.4,4.3],[89.6,5.1],[89.9,2.5],[90.2,4.8],[90.4,5.3],[90.7,4.6],[91.0,5.0],[91.2,4.2],[91.5,5.4],[91.8,4.8],[92.0,5.1],[92.3,4.5],[92.6,5.6],[92.8,4.7],[93.1,5.2],[93.4,4.0],[93.6,4.9],[93.9,5.3],[94.2,4.6],[94.4,5.0],[94.7,4.4],[95.0,5.5],[95.2,4.8],[95.5,5.1],[95.8,4.3],[96.0,5.2],[96.3,4.7],[96.6,5.4],[96.8,4.5],[97.1,5.0],[97.4,4.9],[97.6,5.6],[97.9,4.2],[98.2,5.1],[98.4,4.6],[98.7,5.3],[99.0,4.8],[99.2,5.0],[99.5,4.4],[99.8,5.5],[100.0,4.7],[100.3,5.2],[100.6,4.1],[100.8,4.9],[101.1,5.4],[101.4,4.6],[101.6,5.0],[101.9,4.3],[102.2,5.3],[102.4,4.8],[102.7,5.1],[103.0,3.3],[103.2,4.5],[103.5,5.2],[103.8,4.9],[104.0,5.5],[104.3,4.6],[104.6,5.0],[104.8,4.2],[105.1,5.4],[105.4,4.7],[105.6,5.1],[105.9,4.4],[106.2,5.3],[106.4,4.8],[106.7,5.6],[107.0,4.5],[107.2,5.0],[107.5,4.1],[107.8,5.2],[108.0,4.7],[108.3,5.4],[108.6,4.9],[108.8,1.85],[109.1,5.1],[109.4,4.3],[109.6,5.5],[109.9,4.6],[110.2,5.0],[110.4,4.8],[110.7,5.3],[111.0,4.4],[111.2,5.2],[111.5,4.7],[111.8,5.6],[112.0,4.2],[112.3,5.0],[112.6,4.9],[112.8,5.4],[113.1,4.5],[113.4,5.1],[113.6,4.0],[113.9,5.3],[114.2,4.7],[114.4,5.0],[114.7,4.4],[115.0,5.5],[115.2,4.8],[115.5,5.2],[115.8,4.6],[116.0,5.4],[116.3,4.3],[116.6,5.0],[116.8,4.9],[117.1,5.6],[117.4,4.5],[117.6,5.1],[117.9,4.7],[118.2,5.3],[118.4,4.1],[118.7,5.0],[119.0,4.8],[119.2,5.4],[119.5,4.4],[119.8,5.2],[120.0,4.6],[120.3,5.0],[120.6,4.9],[120.8,5.5],[121.1,4.3],[121.4,5.1],[121.6,4.7],[121.9,5.3],[122.2,4.5],[122.4,5.0],[122.7,4.2],[123.0,5.4],[123.2,4.8],[123.5,5.1],[123.8,4.6],[124.0,5.6],[124.3,4.4],[124.6,5.2],[124.8,4.9],[125.1,5.0],[125.4,4.3],[125.6,5.3],[125.9,4.7],[126.2,5.5],[126.4,4.5],[126.7,5.1],[127.0,4.8],[127.2,5.4],[127.5,4.1],[127.8,5.0],[128.0,4.6],[128.3,5.2],[128.6,4.9],[128.8,3.3],[129.1,5.3],[129.4,3.5],[129.6,4.4],[129.9,5.0],[130.2,3.7],[130.4,4.8],[130.7,5.1],[131.0,4.2],[131.2,5.4],[131.5,4.7],[131.8,5.0],[132.0,4.5],[132.3,5.3],[132.6,4.9],[132.8,5.6],[133.1,4.3],[133.4,5.1],[133.6,4.7],[133.9,5.2],[134.2,4.0],[134.4,5.0],[134.7,4.8],[135.0,5.5],[135.2,4.5],[135.5,5.2],[135.8,4.9],[136.0,5.4],[136.3,2.8],[136.6,4.6],[136.8,5.1],[137.1,4.3],[137.4,5.3],[137.6,4.8],[137.9,5.0],[138.2,4.4],[138.4,5.5],[138.7,4.7],[139.0,5.2],[139.2,4.1],[139.5,5.0],[139.8,4.9],[140.0,5.8],[140.3,4.6],[140.6,5.3],[140.8,4.5],[141.1,5.1],[141.4,4.8],[141.6,5.4],[141.9,4.2],[142.2,5.0],[142.4,4.7],[142.7,5.2],[143.0,4.4],[143.2,5.5],[143.5,4.9],[143.8,5.1],[144.0,4.6],[144.3,5.3],[144.6,4.3],[144.8,5.0],[145.1,4.8],[145.4,5.4],[145.6,4.5],[145.9,5.2],[146.2,4.0],[146.4,4.9],[146.7,5.1],[147.0,4.7],[147.2,5.5],[147.5,4.4],[147.8,5.0],[148.0,4.8],[148.3,5.3],[148.6,4.6],[148.8,5.1],[149.1,4.2],[149.4,5.4],[149.6,3.7],[149.9,4.9],[150.2,5.0],[150.4,4.5],[150.7,5.2],[151.0,4.8],[151.2,5.5],[151.5,4.3],[151.8,5.1],[152.0,4.7],[152.3,5.3],[152.6,4.5],[152.8,5.0],[153.1,4.9],[153.4,5.4],[153.6,4.4],[153.9,5.2],[154.2,4.6],[154.4,5.0],[154.7,4.1],[155.0,5.3],[155.2,4.8],[155.5,5.1],[155.8,4.5],[156.0,5.6],[156.3,4.7],[156.6,5.0],[156.8,4.3],[157.1,5.2],[157.4,4.9],[157.6,5.4],[157.9,4.6],[158.2,5.0],[158.4,4.2],[158.7,5.1],[159.0,4.8],[159.2,5.3],[159.5,2.75],[159.8,4.5],[160.0,5.0],[160.3,4.7],[160.6,5.2],[160.8,4.4],[161.1,5.4],[161.4,4.9],[161.6,5.1],[161.9,4.6],[162.2,5.0],[162.4,4.3],[162.7,5.2],[163.0,4.8],[163.2,5.5],[163.5,4.5],[163.8,5.0],[164.0,4.9],[164.3,5.3],[164.6,4.1],[164.8,2.8],[165.1,5.1],[165.4,4.7],[165.6,5.0],[165.9,4.4],[166.2,5.2],[166.4,4.8],[166.7,3.1],[167.0,5.0],[167.2,4.6],[167.5,5.1],[167.8,4.3],[168.0,4.9],[168.3,1.9],[168.6,5.0],[168.8,4.5],[169.1,4.8],[169.4,5.0],[169.6,3.35],[169.9,4.7],[170.2,4.9],[170.4,4.4],[170.7,5.0],[171.0,4.6],[171.2,4.2],[171.5,4.9],[171.8,4.5]
];

// ---------- Panels e / f (bp, log2ratio) ----------
const eProbes: number[][] = [
[27536990,2.09],[27537880,1.47],[27539210,1.47],[27539090,1.02],[27539960,0.77],[27540910,1.34],[27542120,1.63],[27544140,1.37],[27545070,1.02],[27546080,1.39],[27547090,1.63],[27548100,1.39],[27549110,0.77],[27550120,1.39],[27551130,1.86],[27552140,1.68],[27553150,1.68],[27554040,1.86],[27555050,0.46],[27556180,1.42],[27557190,1.39],[27558080,1.65],[27559090,1.77],[27559900,-0.37],[27561110,-0.6],[27562240,0.25],[27563250,-0.37],[27564260,-0.42],[27565270,-1.6],[27566160,-0.07],[27567170,-0.51],[27568180,-0.68],[27569190,-0.54],[27570200,-0.37],[27571210,0.19],[27573230,0.05],[27574240,0.05],[27575250,0.23],[27576260,0.05],[27577270,-0.37],[27578280,-0.37],[27579290,-0.37],[27580300,-0.42],[27582320,0.02],[27583330,-0.12],[27584550,-0.28],[27585010,0.19]
];
const eSegments: number[][] = [[27536870, 27559090, 1.55], [27560100, 27585616, -0.28]];
const eXTicks = [27530000, 27540000, 27550000, 27560000, 27570000, 27580000];
const eYTicks = [-3.09, 0, 2.719];

const fProbes: number[][] = [
[39850000,0.44],[39850340,-0.53],[39851350,-0.09],[39852220,0.38],[39853170,-0.37],[39854180,-0.37],[39855190,0.14],[39856200,-0.72],[39857070,-0.09],[39858220,-0.09],[39859230,-0.53],[39860240,0.38],[39861110,0.23],[39862120,0.14],[39863130,0.23],[39864140,-0.28],[39865150,-0.13],[39866160,-0.37],[39867170,0.23],[39868180,-0.37],[39869190,-0.43],[39870200,-0.53],[39871210,-0.09],[39873030,0.23],[39874040,0.14],[39875050,-0.37],[39876060,0.1],[39877150,0.66],[39878080,0.38],[39879090,0.28],[39879980,-0.6],[39881190,0.15],[39882200,-0.09],[39883210,0.15],[39884220,0.23],[39885230,1.36],[39886040,1.36],[39887250,0.23],[39888380,1.86],[39889270,1.42],[39890200,1.61],[39891210,0.44],[39892220,1.74],[39893110,1.67],[39894320,1.17],[39895250,1.98],[39896260,1.67],[39897270,2.59],[39898280,2.84],[39899370,1.7]
];
const fSegments: number[][] = [[39849800, 39884343, -0.19], [39885030, 39900445, 1.55]];
const fXTicks = [39850000, 39860000, 39870000, 39880000, 39890000, 39900000];
const fYTicks = [-2.553, 0, 3.689];

// ---------- helpers ----------
const sci = (v: number) => {
  const [m, e] = v.toExponential(2).split('e');
  const n = parseInt(e, 10);
  return m + 'E' + (n < 0 ? '-' : '+') + String(Math.abs(n)).padStart(2, '0');
};
const toXY = (pts: number[][], k = 1) => pts.map(([x, y]) => ({ x: x * k, y }));
const filledSet = (pts: number[][], r: number) => ({
  data: toXY(pts, 1e6), pointStyle: 'circle', pointRadius: r,
  pointBackgroundColor: '#000', pointBorderColor: '#000', pointBorderWidth: 0.5,
});
const openSet = (pts: number[][], r: number) => ({
  data: toXY(pts, 1e6), pointStyle: 'circle', pointRadius: r,
  pointBackgroundColor: '#fff', pointBorderColor: '#000', pointBorderWidth: 1,
});

const framePlugin = (color: string, width: number) => ({
  id: 'frame',
  beforeDatasetsDraw(chart: any) {
    const { ctx, chartArea: a } = chart;
    ctx.save();
    ctx.strokeStyle = color;
    ctx.lineWidth = width;
    ctx.strokeRect(a.left, a.top, a.right - a.left, a.bottom - a.top);
    ctx.restore();
  },
});

function ExcelPanel({ cfg }: { cfg: any }) {
  const ref = useRef<HTMLCanvasElement>(null);
  const [bl, bt, br, bb] = cfg.box;
  const [pl, pt, pr, pb] = cfg.plot;
  useEffect(() => {
    const chart = new Chart(ref.current as any, {
      type: 'scatter',
      data: { datasets: cfg.datasets },
      options: {
        animation: false, responsive: false, devicePixelRatio: 1,
        layout: { padding: { left: 0, top: pt - bt, right: br - pr, bottom: bb - pb } },
        plugins: { legend: { display: false }, tooltip: { enabled: false } },
        scales: {
          x: {
            type: 'linear', min: 0, max: cfg.xMax, position: { y: 0 },
            ticks: { stepSize: cfg.xStep, autoSkip: false, maxRotation: 0, minRotation: 0, padding: 4, color: '#444', font: { family: FONT, size: 8 }, callback: (v: any) => sci(Number(v)) },
            grid: { display: false, drawTicks: false },
            border: { display: false },
            afterFit: (s: any) => { s.paddingLeft = 0; s.paddingRight = 0; },
          },
          y: {
            type: 'linear', min: cfg.yMin, max: cfg.yMax,
            ticks: { stepSize: 1, color: '#444', font: { family: FONT, size: 9 }, padding: 6 },
            grid: { color: cfg.gridColor, lineWidth: cfg.gridWidth, drawTicks: false },
            border: { color: cfg.frameColor },
            afterFit: (s: any) => { s.width = pl - bl; s.paddingTop = 0; s.paddingBottom = 0; },
          },
        },
      } as any,
      plugins: [framePlugin(cfg.frameColor, 1)],
    } as any);
    return () => chart.destroy();
  }, []);
  return <canvas ref={ref} width={br - bl} height={bb - bt} style={{ position: 'absolute', left: bl, top: bt, width: br - bl, height: bb - bt }} />;
}

function BreakPanel({ cfg }: { cfg: any }) {
  const ref = useRef<HTMLCanvasElement>(null);
  const { left, top, width, height } = cfg.canvas;
  useEffect(() => {
    const yLo = cfg.yTicks[0], yHi = cfg.yTicks[cfg.yTicks.length - 1];
    const line = (pts: any[], color: string, w: number) => ({ data: pts, showLine: true, borderColor: color, borderWidth: w, pointRadius: 0 });
    const datasets: any[] = [
      line([{ x: cfg.axisX, y: 0 }, { x: cfg.xMax, y: 0 }], cfg.zeroColor, 1.5),
      line([{ x: cfg.axisX, y: yLo }, { x: cfg.axisX, y: yHi }], cfg.axisColor, 1.5),
      line([{ x: cfg.axisX - cfg.tickBp, y: yLo }, { x: cfg.axisX, y: yLo }], cfg.axisColor, 1.5),
      line([{ x: cfg.axisX - cfg.tickBp, y: yHi }, { x: cfg.axisX, y: yHi }], cfg.axisColor, 1.5),
      ...cfg.segments.map((s: number[]) => line([{ x: s[0], y: s[2] }, { x: s[1], y: s[2] }], cfg.segColor, 4)),
      { data: toXY(cfg.probes), pointStyle: 'line', pointRadius: 3.5, pointBorderWidth: 3, pointBorderColor: '#111', pointBackgroundColor: '#111' },
    ];
    const chart = new Chart(ref.current as any, {
      type: 'scatter',
      data: { datasets },
      options: {
        animation: false, responsive: false, devicePixelRatio: 1,
        layout: { padding: cfg.padding },
        plugins: { legend: { display: false }, tooltip: { enabled: false } },
        scales: {
          x: {
            type: 'linear', position: 'top', min: cfg.xMin, max: cfg.xMax,
            afterBuildTicks: (s: any) => { s.ticks = cfg.xTicks.map((v: number) => ({ value: v })); },
            ticks: { autoSkip: false, minRotation: 52, maxRotation: 52, padding: 2, labelOffset: 8, color: '#333', font: { family: FONT, size: 16 }, callback: (v: any) => String(v) },
            grid: { drawOnChartArea: false, drawTicks: true, tickLength: 4, color: '#333', lineWidth: 1.5 },
            border: { color: '#333', width: 1.5 },
            afterFit: (s: any) => { s.height = cfg.axisH; s.paddingLeft = 0; s.paddingRight = 0; },
          },
          y: {
            type: 'linear', position: { x: cfg.labelX }, min: cfg.yMin, max: cfg.yMax,
            afterBuildTicks: (s: any) => { s.ticks = cfg.yTicks.map((v: number) => ({ value: v })); },
            ticks: { autoSkip: false, padding: 0, color: '#9a9a9a', font: { family: FONT, size: 16 }, callback: (v: any) => Number(v).toFixed(3) },
            grid: { drawOnChartArea: false, drawTicks: false, color: 'rgba(0,0,0,0)' },
            border: { display: false },
            afterFit: (s: any) => { s.paddingTop = 0; s.paddingBottom = 0; },
          },
        },
      } as any,
    } as any);
    return () => chart.destroy();
  }, []);
  return <canvas ref={ref} width={width} height={height} style={{ position: 'absolute', left, top, width, height }} />;
}

const lightGrid = '#c4c4c4';
const A = { box: [36, 3, 739, 185], plot: [79, 10.7, 717, 178], xMax: 1.6e8, xStep: 2e7, yMin: -2, yMax: 6, gridColor: lightGrid, gridWidth: 1, frameColor: '#b0b0b0',
  datasets: [{ data: toXY(aChr8, 1e6), pointStyle: 'rectRot', pointRadius: 3.2, pointBackgroundColor: '#111', pointBorderColor: '#111', pointBorderWidth: 0 }] };
const B = { box: [36, 213, 739, 395], plot: [79, 221, 717, 388], xMax: 1.6e8, xStep: 2e7, yMin: -2, yMax: 6, gridColor: lightGrid, gridWidth: 1, frameColor: '#b0b0b0',
  datasets: [openSet(bOpen, 3.6), filledSet(bFilled, 3.6)] };
const C = { box: [40, 427, 739, 601], plot: [81, 435.7, 718, 594], xMax: 4.5e7, xStep: 5e6, yMin: -3, yMax: 6,
  gridColor: (c: any) => (c.tick.value === 6 || c.tick.value === -3 ? '#999' : '#222'), gridWidth: (c: any) => (c.tick.value === 6 || c.tick.value === -3 ? 1 : 1.6), frameColor: '#999',
  datasets: [filledSet(cFilled, 3.6), openSet(cOpen, 3.6)] };
const D = { box: [40, 624, 739, 797], plot: [82, 631, 718, 789], xMax: 1.8e8, xStep: 2e7, yMin: -3, yMax: 6, gridColor: '#bdbdbd', gridWidth: 1, frameColor: '#b0b0b0',
  datasets: [openSet(dOpen, 3.3), filledSet(dFilled, 3.3)] };

const E = { canvas: { left: 50, top: 871, width: 308, height: 244 }, padding: { left: 7, right: 0, top: 0, bottom: 5 }, axisH: 79,
  xMin: 27524810, xMax: 27585616, yMin: -3.49, yMax: 4.929, axisX: 27536870, labelX: 27533495, tickBp: 1000, xTicks: eXTicks, yTicks: eYTicks,
  probes: eProbes, segments: eSegments, zeroColor: '#d4d4d4', axisColor: '#b8b8b8', segColor: '#8a8a8a' };
const F = { canvas: { left: 412, top: 871, width: 322, height: 244 }, padding: { left: 3, right: 6, top: 0, bottom: 5 }, axisH: 82,
  xMin: 39837212, xMax: 39900445, yMin: -3.024, yMax: 5.885, axisX: 39849800, labelX: 39846970, tickBp: 1000, xTicks: fXTicks, yTicks: fYTicks,
  probes: fProbes, segments: fSegments, zeroColor: '#a8a8a8', axisColor: '#999', segColor: '#999' };

const abs = (s: any) => ({ position: 'absolute' as const, ...s });

function YTitle({ cx, cy }: { cx: number; cy: number }) {
  return <div style={abs({ left: cx, top: cy, transform: 'translate(-50%,-50%) rotate(-90deg)', whiteSpace: 'nowrap', fontSize: 12.5, color: '#333', lineHeight: '14px' })}>log2ratio(test/ref)</div>;
}
function XTitle({ text, cy }: { text: string; cy: number }) {
  return <div style={abs({ right: 28, top: cy - 8, whiteSpace: 'nowrap', fontSize: 12.5, color: '#333', lineHeight: '16px', textAlign: 'right' })}>{text}</div>;
}
function PanelLetter({ ch, left, top, size = 24 }: { ch: string; left: number; top: number; size?: number }) {
  return <div style={abs({ left, top, fontSize: size, fontWeight: 'bold', lineHeight: size + 'px', color: '#111' })}>{ch}</div>;
}
function VLine({ x, y1, y2 }: { x: number; y1: number; y2: number }) {
  return <div style={abs({ left: x - 0.75, top: y1, width: 1.5, height: y2 - y1, background: '#111' })} />;
}

export default function App() {
  useEffect(() => { document.body.style.margin = '0'; }, []);
  return (
    <div style={{ position: 'absolute', left: 0, top: 0, width: 741, height: 1125, background: '#fff', fontFamily: FONT, overflow: 'hidden' }}>
      {/* boxes */}
      <div style={abs({ left: 36, top: 3, width: 703, height: 182, border: '1px solid #c0c0c0', boxSizing: 'border-box' })} />
      <div style={abs({ left: 36, top: 213, width: 703, height: 182, border: '1px solid #c0c0c0', boxSizing: 'border-box' })} />
      <div style={abs({ left: 40, top: 427, width: 699, height: 174, border: '2px solid #555', boxSizing: 'border-box' })} />
      <div style={abs({ left: 40, top: 624, width: 699, height: 173, border: '1px solid #c0c0c0', boxSizing: 'border-box' })} />
      <div style={abs({ left: 49, top: 870, width: 324, height: 246, border: '2px solid #333', boxSizing: 'border-box' })} />
      <div style={abs({ left: 411, top: 870, width: 324, height: 246, border: '2px solid #333', boxSizing: 'border-box' })} />

      <ExcelPanel cfg={A} />
      <ExcelPanel cfg={B} />
      <ExcelPanel cfg={C} />
      <ExcelPanel cfg={D} />
      <BreakPanel cfg={E} />
      <BreakPanel cfg={F} />

      <YTitle cx={52.7} cy={83} />
      <YTitle cx={52.7} cy={285} />
      <YTitle cx={61} cy={491} />
      <YTitle cx={58.5} cy={690} />
      <XTitle text="Chr 8 Genomic distance (bp)" cy={167.7} />
      <XTitle text="Chr 8 Genomic distance (bp)" cy={377.7} />
      <XTitle text="Chr 8p Genomic distance (bp)" cy={585.2} />
      <XTitle text="Chr 6 Genomic distance (bp)" cy={780.2} />

      <PanelLetter ch="a" left={13} top={9} />
      <PanelLetter ch="b" left={13} top={213} />
      <PanelLetter ch="c" left={14} top={420} />
      <PanelLetter ch="d" left={13} top={626} />

      <div style={abs({ left: 14, top: 842, fontSize: 20, fontWeight: 'bold', lineHeight: '20px', color: '#111' })}>e</div>
      <div style={abs({ left: 49, top: 842, fontSize: 20, fontWeight: 'bold', lineHeight: '20px', color: '#111', whiteSpace: 'nowrap' })}>TAX1BP1 break</div>
      <div style={abs({ left: 385, top: 842, fontSize: 20, fontWeight: 'bold', lineHeight: '20px', color: '#111' })}>f</div>
      <div style={abs({ left: 410, top: 842, fontSize: 20, fontWeight: 'bold', lineHeight: '20px', color: '#111', whiteSpace: 'nowrap' })}>P300 break</div>

      <div style={abs({ left: 122, top: 975, height: 18, lineHeight: '18px', fontSize: 21, padding: '0 3px', background: '#dcdcdc', color: '#9a9a9a' })}>chr7</div>
      <div style={abs({ left: 485, top: 968, height: 25, lineHeight: '25px', fontSize: 22, padding: '0 2px', background: '#dcdcdc', color: '#9a9a9a' })}>chr22</div>

      <div style={abs({ left: 198, top: 990, width: 60, height: 84, border: '1.5px solid #111', borderRadius: '50%', boxSizing: 'border-box' })} />
      <div style={abs({ left: 625, top: 1002, width: 61, height: 84, border: '1.5px solid #111', borderRadius: '50%', boxSizing: 'border-box' })} />

      <VLine x={478} y1={198} y2={407} />
      <VLine x={286} y1={413} y2={621} />
      <VLine x={229} y1={616} y2={823} />
    </div>
  );
}
